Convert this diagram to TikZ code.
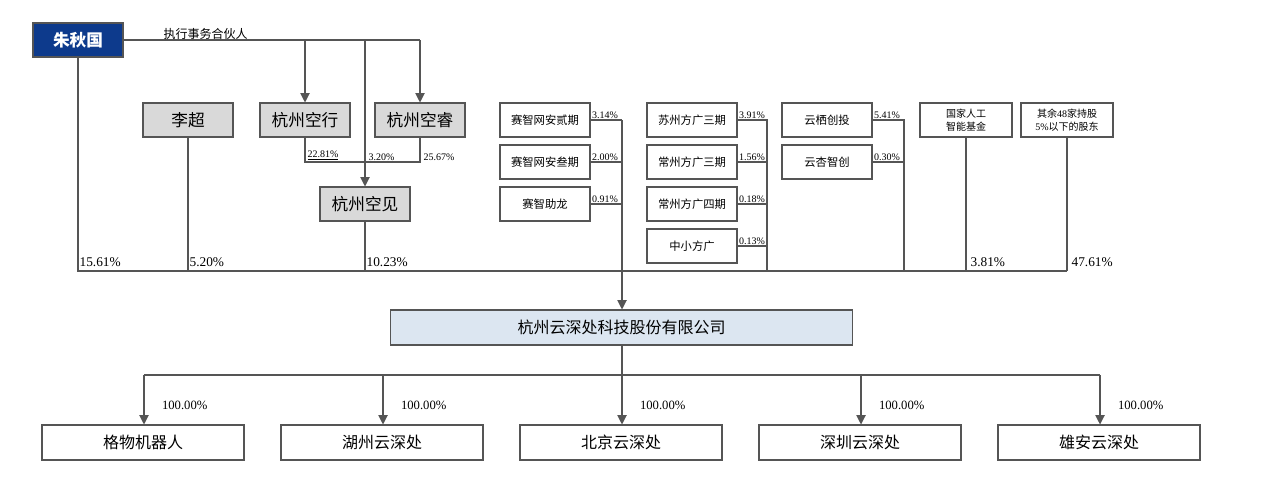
\documentclass[tikz,border=0pt]{standalone}
\usepackage{fontspec}
\setmainfont{Liberation Serif}
\newfontfamily\cjk{Noto Sans CJK SC}
\usetikzlibrary{arrows.meta}
\definecolor{navy}{HTML}{0D3A8C}
\definecolor{lgray}{HTML}{D9D9D9}
\definecolor{lblue}{HTML}{DCE6F1}
\definecolor{ln}{HTML}{555555}
\tikzset{
  box/.style={draw=ln,line width=0.8pt,minimum width=67.5pt,minimum height=25.5pt,inner sep=0pt,font=\cjk\fontsize{11}{13}\selectfont},
  gbox/.style={box,fill=lgray,font=\cjk\fontsize{12.5}{14}\selectfont},
  sbox/.style={box,font=\cjk\fontsize{8.5}{10}\selectfont},
  tbox/.style={box,minimum width=69pt,align=center,font=\cjk\fontsize{7.5}{9.5}\selectfont},
  bbox/.style={box,minimum width=151.5pt,minimum height=26.25pt,font=\cjk\fontsize{12}{14}\selectfont},
  ln/.style={draw=ln,line width=0.8pt},
  arr/.style={ln,-{Triangle[length=7pt,width=7pt]}},
  pct/.style={font=\fontsize{7.5}{9}\selectfont,inner sep=1pt},
  bpct/.style={font=\fontsize{10}{12}\selectfont,inner sep=1pt,anchor=south west},
}
\begin{document}
\begin{tikzpicture}[x=0.75pt,y=-0.75pt]
\useasboundingbox (0,0) rectangle (1280,497);
\node[box,fill=navy,text=white,minimum width=67.5pt,font=\cjk\bfseries\fontsize{12.5}{14}\selectfont] (zqg) at (78,40) {朱秋国};
\node[gbox] (lc) at (188,120) {李超};
\node[gbox] (kx) at (305,120) {杭州空行};
\node[gbox] (kr) at (420,120) {杭州空睿};
\node[gbox] (kj) at (365,204) {杭州空见};
\coordinate (t1) at (305,40); \coordinate (t2) at (420,40); \coordinate (t3) at (365,40);
\draw[ln] (zqg.east) -- (t2);
\node[font=\cjk\fontsize{9}{11}\selectfont,anchor=south west,inner sep=1pt] (zx) at (162,41) {执行事务合伙人};
\draw[arr] (t1) -- (kx.north);
\draw[arr] (t2) -- (kr.north);
\draw[arr] (t3) -- (kj.north);
\coordinate (m1) at (305,162); \coordinate (m2) at (420,162);
\draw[ln] (kx.south -| m1) -- (m1) -- (m2) -- (kr.south -| m2);
\node[pct,anchor=south west] (p1) at (306,162) {\underline{22.81\%}};
\node[pct,anchor=south west] (p2) at (367,162) {3.20\%};
\node[pct,anchor=south west] (p3) at (422,162) {25.67\%};
% bottom collector
\coordinate (b0) at (78,271); \coordinate (b1) at (188,271); \coordinate (b2) at (365,271);
\coordinate (b3) at (622,271); \coordinate (b4) at (767,271); \coordinate (b5) at (904,271);
\coordinate (b6) at (966,271); \coordinate (b7) at (1067,271);
\draw[ln] (zqg.south) -- (b0) -- (b7);
\draw[ln] (lc.south) -- (b1);
\draw[ln] (kj.south) -- (b2);
\node[bpct] (q0) at (78,268) {15.61\%};
\node[bpct] (q1) at (188,268) {5.20\%};
\node[bpct] (q2) at (365,268) {10.23\%};
% column 1
\node[sbox] (a1) at (545,120) {赛智网安贰期};
\node[sbox] (a2) at (545,162) {赛智网安叁期};
\node[sbox] (a3) at (545,204) {赛智助龙};
\coordinate (c1) at (622,120); \coordinate (c2) at (622,162); \coordinate (c3) at (622,204);
\draw[ln] (a1.east) -- (c1); \draw[ln] (a2.east) -- (c2); \draw[ln] (a3.east) -- (c3);
\node[pct,anchor=south west] at (a1.east) {3.14\%};
\node[pct,anchor=south west] at (a2.east) {2.00\%};
\node[pct,anchor=south west] at (a3.east) {0.91\%};
% column 2
\node[sbox] (d1) at (692,120) {苏州方广三期};
\node[sbox] (d2) at (692,162) {常州方广三期};
\node[sbox] (d3) at (692,204) {常州方广四期};
\node[sbox] (d4) at (692,246) {中小方广};
\coordinate (e1) at (767,120);
\draw[ln] (d1.east) -- (e1) -- (b4);
\draw[ln] (d2.east) -- (d2.east -| e1); \draw[ln] (d3.east) -- (d3.east -| e1); \draw[ln] (d4.east) -- (d4.east -| e1);
\node[pct,anchor=south west] at (d1.east) {3.91\%};
\node[pct,anchor=south west] at (d2.east) {1.56\%};
\node[pct,anchor=south west] at (d3.east) {0.18\%};
\node[pct,anchor=south west] at (d4.east) {0.13\%};
% column 3
\node[sbox] (f1) at (827,120) {云栖创投};
\node[sbox] (f2) at (827,162) {云杏智创};
\coordinate (g1) at (904,120);
\draw[ln] (f1.east) -- (g1) -- (b5);
\draw[ln] (f2.east) -- (f2.east -| g1);
\node[pct,anchor=south west] at (f1.east) {5.41\%};
\node[pct,anchor=south west] at (f2.east) {0.30\%};
% funds
\node[tbox] (h1) at (966,120) {国家人工\\智能基金};
\node[tbox] (h2) at (1067,120) {其余{\fontspec{Liberation Serif}48}家持股\\{\fontspec{Liberation Serif}5\%}以下的股东};
\draw[ln] (h1.south) -- (b6);
\draw[ln] (h2.south) -- (b7);
\node[bpct] at (969,268) {3.81\%};
\node[bpct] at (1070,268) {47.61\%};
% company
\node[box,fill=lblue,minimum width=347pt,minimum height=26.25pt,font=\cjk\fontsize{12}{14}\selectfont] (co) at (621.5,327.5) {杭州云深处科技股份有限公司};
\draw[ln] (c1) -- (b3);
\draw[arr] (b3) -- (co.north -| b3);
\coordinate (s) at (622,375);
\coordinate (s1) at (144,375); \coordinate (s2) at (383,375); \coordinate (s5) at (1100,375); \coordinate (s4) at (861,375);
\draw[ln] (co.south -| s) -- (s);
\draw[ln] (s1) -- (s5);
\node[bbox] (k1) at (143,442.5) {格物机器人};
\node[bbox] (k2) at (382,442.5) {湖州云深处};
\node[bbox] (k3) at (621,442.5) {北京云深处};
\node[bbox] (k4) at (860,442.5) {深圳云深处};
\node[bbox] (k5) at (1099,442.5) {雄安云深处};
\foreach \s/\k in {s1/k1,s2/k2,s/k3,s4/k4,s5/k5}{
  \draw[arr] (\s) -- (\s |- \k.north);
  \node[font=\fontsize{9.5}{11}\selectfont,anchor=west] at ([xshift=10,yshift=14]\k.north -| \s) {100.00\%};
}
\end{tikzpicture}
\end{document}
